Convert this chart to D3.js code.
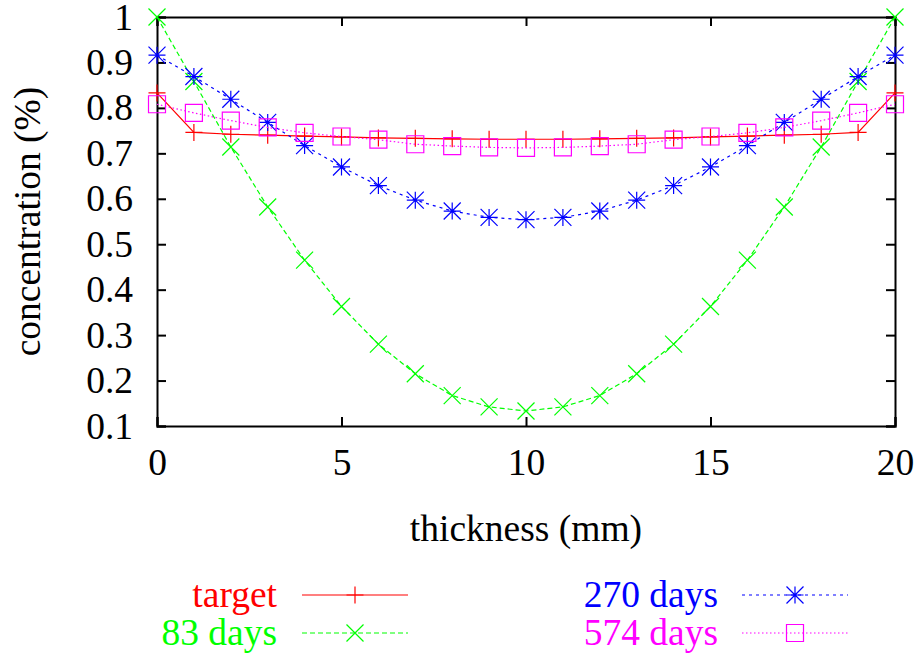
<!DOCTYPE html>
<html>
<head>
<meta charset="utf-8">
<script src="https://cdn.jsdelivr.net/npm/d3@7"></script>
<style>
  body { margin: 0; background: #fff; }
  text { font-family: "Liberation Serif", "Times New Roman", serif; }
</style>
</head>
<body>
<div id="graph"></div>
<script>
// thickness positions (mm)
var thickness = [0, 1, 2, 3, 4, 5, 6, 7, 8, 9, 10, 11, 12, 13, 14, 15, 16, 17, 18, 19, 20];
var target = [0.833, 0.746, 0.742, 0.740, 0.738, 0.736, 0.734, 0.733, 0.732, 0.731, 0.731,
  0.731, 0.732, 0.733, 0.734, 0.736, 0.738, 0.740, 0.742, 0.746, 0.833];
var days83 = [1.0, 0.858, 0.714, 0.582, 0.465, 0.363, 0.280, 0.215, 0.167, 0.142, 0.133,
  0.142, 0.167, 0.215, 0.280, 0.363, 0.465, 0.582, 0.714, 0.858, 1.0];
var days270 = [0.916, 0.869, 0.819, 0.768, 0.717, 0.670, 0.629, 0.597, 0.573, 0.559, 0.554,
  0.559, 0.573, 0.597, 0.629, 0.670, 0.717, 0.768, 0.819, 0.869, 0.916];
var days574 = [0.808, 0.789, 0.772, 0.757, 0.745, 0.737, 0.730, 0.720, 0.716, 0.713, 0.712,
  0.713, 0.716, 0.720, 0.730, 0.737, 0.745, 0.757, 0.772, 0.789, 0.808];
var seriesNames = ["target", "83 days", "270 days", "574 days"];
var xTicks = [0, 5, 10, 15, 20];
var yTicks = [0.1, 0.2, 0.3, 0.4, 0.5, 0.6, 0.7, 0.8, 0.9, 1];

var width = 915, height = 655;
var plotLeft = 157, plotRight = 895, plotTop = 17, plotBottom = 426;
var fontSize = 37.5;

var series = [
  {name: seriesNames[0], values: target, color: "#ff0000", dash: null, marker: "plus"},
  {name: seriesNames[1], values: days83, color: "#00ff00", dash: "5,3", marker: "cross"},
  {name: seriesNames[2], values: days270, color: "#0000ff", dash: "3,4", marker: "star"},
  {name: seriesNames[3], values: days574, color: "#ff00ff", dash: "1.5,2.5", marker: "square"}
];

var svg = d3.select("#graph").append("svg").attr("width", width).attr("height", height);
svg.append("rect").attr("width", width).attr("height", height).attr("fill", "#fff");

var x = d3.scaleLinear().domain([0, 20]).range([plotLeft, plotRight]);
var y = d3.scaleLinear().domain([0.1, 1]).range([plotBottom, plotTop]);

// axes: ticks pointing inward on all four sides
var tickLen = 9;
svg.append("g").attr("transform", "translate(0," + plotBottom + ")")
  .call(d3.axisBottom(x).tickValues(xTicks).tickSize(-tickLen).tickPadding(22).tickFormat(d3.format("d")))
  .call(styleAxis);
svg.append("g").attr("transform", "translate(0," + plotTop + ")")
  .call(d3.axisTop(x).tickValues(xTicks).tickSize(-tickLen).tickFormat(""))
  .call(styleAxis);
svg.append("g").attr("transform", "translate(" + plotLeft + ",0)")
  .call(d3.axisLeft(y).tickValues(yTicks).tickSize(-tickLen).tickPadding(24).tickFormat(function(d){ return String(+d.toFixed(1)); }))
  .call(styleAxis);
svg.append("g").attr("transform", "translate(" + plotRight + ",0)")
  .call(d3.axisRight(y).tickValues(yTicks).tickSize(-tickLen).tickFormat(""))
  .call(styleAxis);

function styleAxis(g){
  g.select(".domain").attr("stroke", "#000").attr("stroke-width", 2);
  g.selectAll(".tick line").attr("stroke", "#000").attr("stroke-width", 2);
  g.selectAll(".tick text").attr("font-size", fontSize).attr("fill", "#000");
}

svg.append("text").attr("x", (plotLeft + plotRight) / 2).attr("y", 541)
  .attr("text-anchor", "middle").attr("font-size", fontSize).text("thickness (mm)");
svg.append("text").attr("transform", "translate(40," + ((plotTop + plotBottom) / 2) + ") rotate(-90)")
  .attr("text-anchor", "middle").attr("font-size", fontSize).text("concentration (%)");

function markerPath(type, cx, cy, r){
  var p = d3.path();
  if(type == "plus" || type == "star"){
    p.moveTo(cx - r, cy); p.lineTo(cx + r, cy);
    p.moveTo(cx, cy - r); p.lineTo(cx, cy + r);
  }
  if(type == "cross" || type == "star"){
    p.moveTo(cx - r, cy - r); p.lineTo(cx + r, cy + r);
    p.moveTo(cx - r, cy + r); p.lineTo(cx + r, cy - r);
  }
  if(type == "square"){
    p.rect(cx - r, cy - r, 2 * r, 2 * r);
  }
  return p.toString();
}

var line = d3.line()
  .x(function(d, i){ return x(thickness[i]); })
  .y(function(d){ return y(d); });

series.forEach(function(s){
  svg.append("path").attr("d", line(s.values))
    .attr("fill", "none").attr("stroke", s.color).attr("stroke-width", 1.2)
    .attr("stroke-dasharray", s.dash);
  svg.append("g").selectAll("path").data(s.values).enter().append("path")
    .attr("d", function(d, i){ return markerPath(s.marker, x(thickness[i]), y(d), 8.5); })
    .attr("fill", "none").attr("stroke", s.color).attr("stroke-width", 1.2);
});

// legend
var legendPos = [
  {tx: 277, ly: 595, x1: 302, x2: 408},
  {tx: 277, ly: 633, x1: 302, x2: 408},
  {tx: 718, ly: 595, x1: 742, x2: 848},
  {tx: 718, ly: 633, x1: 742, x2: 848}
];
series.forEach(function(s, i){
  var lp = legendPos[i];
  svg.append("text").attr("x", lp.tx).attr("y", lp.ly).attr("dy", "0.33em")
    .attr("text-anchor", "end").attr("font-size", fontSize).attr("fill", s.color).text(s.name);
  svg.append("line").attr("x1", lp.x1).attr("x2", lp.x2).attr("y1", lp.ly).attr("y2", lp.ly)
    .attr("stroke", s.color).attr("stroke-width", 1.2).attr("stroke-dasharray", s.dash);
  svg.append("path").attr("d", markerPath(s.marker, (lp.x1 + lp.x2) / 2, lp.ly, 8.5))
    .attr("fill", "none").attr("stroke", s.color).attr("stroke-width", 1.2);
});
</script>
</body>
</html>
